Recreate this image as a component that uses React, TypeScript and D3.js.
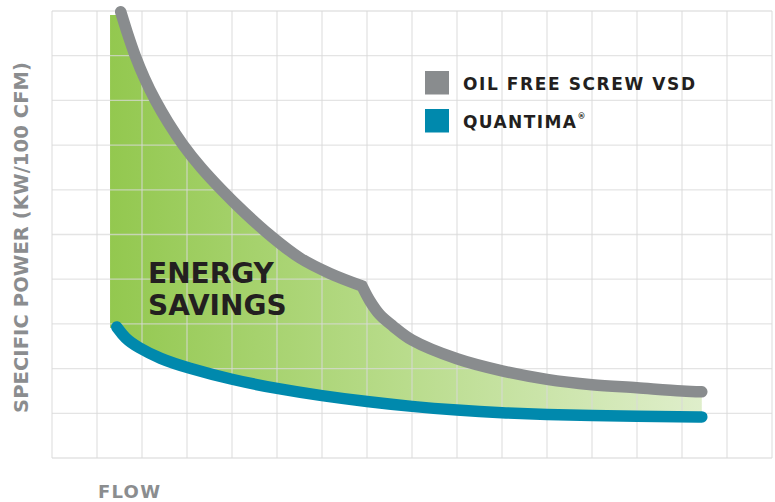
import React from "react";
import * as d3 from "d3";

// Data in grid units: flow 0..16 (columns), specific power 0..10 (rows)
const flowTicks = d3.range(0, 17);
const powerTicks = d3.range(0, 11);

// Oil free screw VSD curve (two segments joined at the kink)
const vsdBefore: [number, number][] = [
  [1.527, 9.984], [1.68, 9.492], [1.849, 9.0], [2.053, 8.501], [2.293, 8.009],
  [2.582, 7.506], [2.916, 7.002], [3.311, 6.499], [3.771, 5.996],
  [4.278, 5.492], [4.838, 4.989], [5.511, 4.474], [6.178, 4.128], [6.889, 3.848],
];
const vsdAfter: [number, number][] = [
  [6.889, 3.848], [7.067, 3.51], [7.289, 3.2], [7.578, 2.95], [8.0, 2.64],
  [9.0, 2.22], [10.0, 1.95], [11.0, 1.76], [12.0, 1.64], [13.0, 1.57],
  [14.0, 1.5], [14.44, 1.48],
];
// Quantima curve
const quantima: [number, number][] = [
  [1.44, 2.93], [1.62, 2.68], [1.9, 2.48], [2.4, 2.22],
  [3.0, 2.02], [4.0, 1.75], [5.0, 1.55], [6.0, 1.39], [7.0, 1.26],
  [8.0, 1.15], [9.0, 1.07], [10.0, 1.01], [11.0, 0.97], [12.0, 0.95],
  [13.0, 0.93], [14.0, 0.92], [14.44, 0.92],
];
// Savings area corners
const fillLeft = 1.29;
const fillTop = 9.91;
const fillBottomLeft = 2.91;

const legendItems = [
  { label: "OIL FREE SCREW VSD", color: "#898c8e", width: 232, sup: "" },
  { label: "QUANTIMA", color: "#0089ad", width: 113, sup: "®" },
];

const W = 775;
const H = 502;

export default function App() {
  const x = d3.scaleLinear().domain([0, 16]).range([52, 772]);
  const y = d3.scaleLinear().domain([0, 10]).range([458, 11]);

  const grayLine = d3
    .line<[number, number]>()
    .x((d) => x(d[0]))
    .y((d) => y(d[1]))
    .curve(d3.curveCatmullRom.alpha(0.5));
  const tealLine = d3
    .line<[number, number]>()
    .x((d) => x(d[0]))
    .y((d) => y(d[1]))
    .curve(d3.curveBasis);

  const pA = grayLine(vsdBefore) || "";
  const pB = (grayLine(vsdAfter) || "").replace(/^M/, "L");
  const vsdPath = pA + pB;
  const qPath = tealLine(quantima) || "";

  // fill polygon
  const qRev = (tealLine(quantima.slice().reverse()) || "").replace(/^M/, "L");
  const fillPath =
    `M${x(fillLeft)},${y(fillTop)}L${x(vsdBefore[0][0])},${y(fillTop)}` +
    pA.replace(/^M/, "L") +
    pB +
    qRev +
    `L${x(fillLeft)},${y(fillBottomLeft)}Z`;

  const font = "'DejaVu Sans', sans-serif";

  return (
    <svg
      width={W}
      height={H}
      style={{ position: "absolute", left: 0, top: 0, background: "#fff" }}
    >
      <defs>
        <linearGradient
          id="savingsGrad"
          gradientUnits="userSpaceOnUse"
          x1={x(fillLeft)}
          x2={x(14.44)}
          y1={0}
          y2={0}
        >
          <stop offset="0" stopColor="#93c84f" />
          <stop offset="0.5" stopColor="#b9dc8c" />
          <stop offset="1" stopColor="#dfeecb" />
        </linearGradient>
      </defs>
      <rect x={0} y={0} width={W} height={H} fill="#fff" />
      <path d={fillPath} fill="url(#savingsGrad)" />
      <g stroke="#dadada" strokeOpacity={0.72} strokeWidth={1.3}>
        {flowTicks.map((t) => (
          <line key={"v" + t} x1={x(t)} x2={x(t)} y1={y(10)} y2={y(0)} />
        ))}
        {powerTicks.map((t) => (
          <line key={"h" + t} x1={x(0)} x2={x(16)} y1={y(t)} y2={y(t)} />
        ))}
      </g>
      <path
        d={vsdPath}
        fill="none"
        stroke="#898c8e"
        strokeWidth={11.5}
        strokeLinecap="round"
        strokeLinejoin="miter"
      />
      <path
        d={qPath}
        fill="none"
        stroke="#0089ad"
        strokeWidth={11.5}
        strokeLinecap="round"
        strokeLinejoin="round"
      />
      <g fontFamily={font} fontWeight="bold" fill="#231f20" fontSize={28}>
        <text x={148} y={283}>ENERGY</text>
        <text x={148} y={315}>SAVINGS</text>
      </g>
      {legendItems.map((it, i) => (
        <g key={it.label} transform={`translate(425, ${71 + i * 38})`}>
          <rect x={0} y={0} width={24} height={23.5} fill={it.color} />
          <text
            x={38}
            y={19}
            fontFamily={font}
            fontWeight="bold"
            fontSize={17}
            fill="#231f20"
            textLength={it.width}
            lengthAdjust="spacing"
          >
            {it.label}
          </text>
          {it.sup && (
            <text
              x={38 + it.width + 1.5}
              y={10}
              fontFamily={font}
              fontWeight="bold"
              fontSize={8}
              fill="#231f20"
            >
              {it.sup}
            </text>
          )}
        </g>
      ))}
      <text
        transform="translate(28.3, 237.5) rotate(-90)"
        textAnchor="middle"
        fontFamily={font}
        fontWeight="bold"
        fontSize={19.5}
        fill="#8b8d8f"
        textLength={351}
        lengthAdjust="spacing"
      >
        SPECIFIC POWER (KW/100 CFM)
      </text>
      <text
        x={98}
        y={498}
        fontFamily={font}
        fontWeight="bold"
        fontSize={18}
        fill="#8b8d8f"
        textLength={62}
        lengthAdjust="spacing"
      >
        FLOW
      </text>
    </svg>
  );
}
